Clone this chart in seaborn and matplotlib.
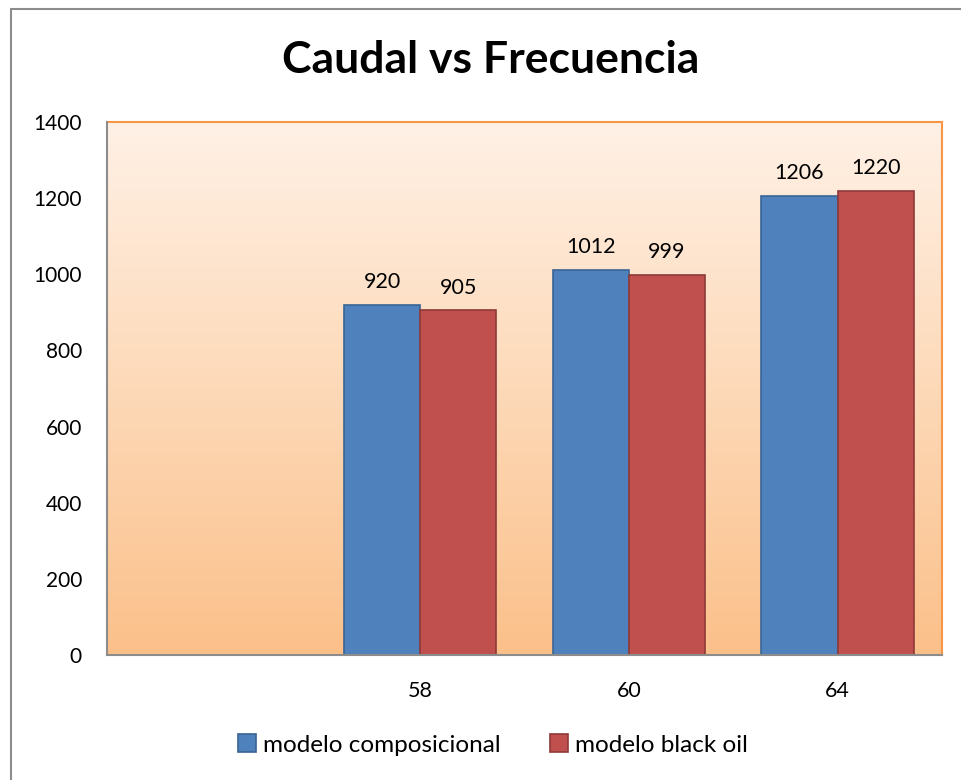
import numpy as np
import pandas as pd
import matplotlib
matplotlib.use("Agg")
import matplotlib.pyplot as plt
import seaborn as sns
from matplotlib.patches import Rectangle
from matplotlib.colors import LinearSegmentedColormap

categories = ["58", "60", "64"]
order = ["", "58", "60", "64"]
series_names = ["modelo composicional", "modelo black oil"]
comp_values = [920, 1012, 1206]
black_values = [905, 999, 1220]
yticks = [0, 200, 400, 600, 800, 1000, 1200, 1400]

df = pd.DataFrame({
    "cat": categories * 2,
    "val": comp_values + black_values,
    "serie": [series_names[0]] * 3 + [series_names[1]] * 3,
})

sns.set_style("white")
plt.rcParams["font.family"] = ["Lato", "DejaVu Sans"]
plt.rcParams["text.color"] = "black"
plt.rcParams["xtick.color"] = "black"
plt.rcParams["ytick.color"] = "black"

W, H = 961, 780
fig = plt.figure(figsize=(W / 100, H / 100), dpi=100)
ax = fig.add_axes([107 / W, 1 - 655 / H, (942 - 107) / W, (655 - 122) / H])

# gradient background
cmap = LinearSegmentedColormap.from_list("bg", ["#FFF1E6", "#FDD9B8", "#FBC08A"])
grad = np.linspace(0, 1, 256).reshape(-1, 1)
ax.imshow(grad, extent=[0, 1, 0, 1], transform=ax.transAxes, cmap=cmap,
          aspect="auto", zorder=0, origin="upper")

palette = {series_names[0]: "#4F81BD", series_names[1]: "#C0504D"}
sns.barplot(data=df, x="cat", y="val", hue="serie", order=order,
            hue_order=series_names, palette=palette, width=0.73,
            ax=ax, zorder=2, saturation=1, legend=False)

edges = ["#3A6496", "#8E3A38"]
for i, cont in enumerate(ax.containers):
    for p in cont:
        p.set_edgecolor(edges[i])
        p.set_linewidth(1.2)
    ax.bar_label(cont, labels=[str(int(v)) for v in cont.datavalues],
                 padding=9, fontsize=15.5, color="black")

ax.set_xlim(-0.5, 3.5)
ax.set_ylim(0, 1400)
ax.set_yticks(yticks)
ax.set_yticklabels([str(v) for v in yticks], fontsize=15)
ax.tick_params(axis="x", labelsize=15.5, pad=19, length=0)
ax.tick_params(axis="y", pad=18, length=0)
ax.set_xlabel("")
ax.set_ylabel("")

for s in ["top", "right"]:
    ax.spines[s].set_color("#F79646")
    ax.spines[s].set_linewidth(1.5)
for s in ["left", "bottom"]:
    ax.spines[s].set_color("#8C8C8C")
    ax.spines[s].set_linewidth(1.5)
    ax.spines[s].set_zorder(5)

fig.text(491 / W, 1 - 60 / H, "Caudal vs Frecuencia", ha="center", va="center",
         fontsize=32, fontweight="bold", color="black")

handles = [Rectangle((0, 0), 1, 1, facecolor=palette[n], edgecolor=e, linewidth=1.2)
           for n, e in zip(series_names, edges)]
fig.legend(handles, series_names, loc="center", bbox_to_anchor=(493 / W, 1 - 745 / H),
           ncol=2, frameon=False, fontsize=17.5, handlelength=0.75, handleheight=0.75,
           handletextpad=0.3, columnspacing=2.0)

# outer chart border (top and left visible)
fig.add_artist(plt.Line2D([11 / W, 1], [1 - 9 / H, 1 - 9 / H], color="#8C8C8C", lw=1.5,
                          transform=fig.transFigure))
fig.add_artist(plt.Line2D([11 / W, 11 / W], [0, 1 - 9 / H], color="#8C8C8C", lw=1.5,
                          transform=fig.transFigure))

fig.savefig("out.png", dpi=100)
